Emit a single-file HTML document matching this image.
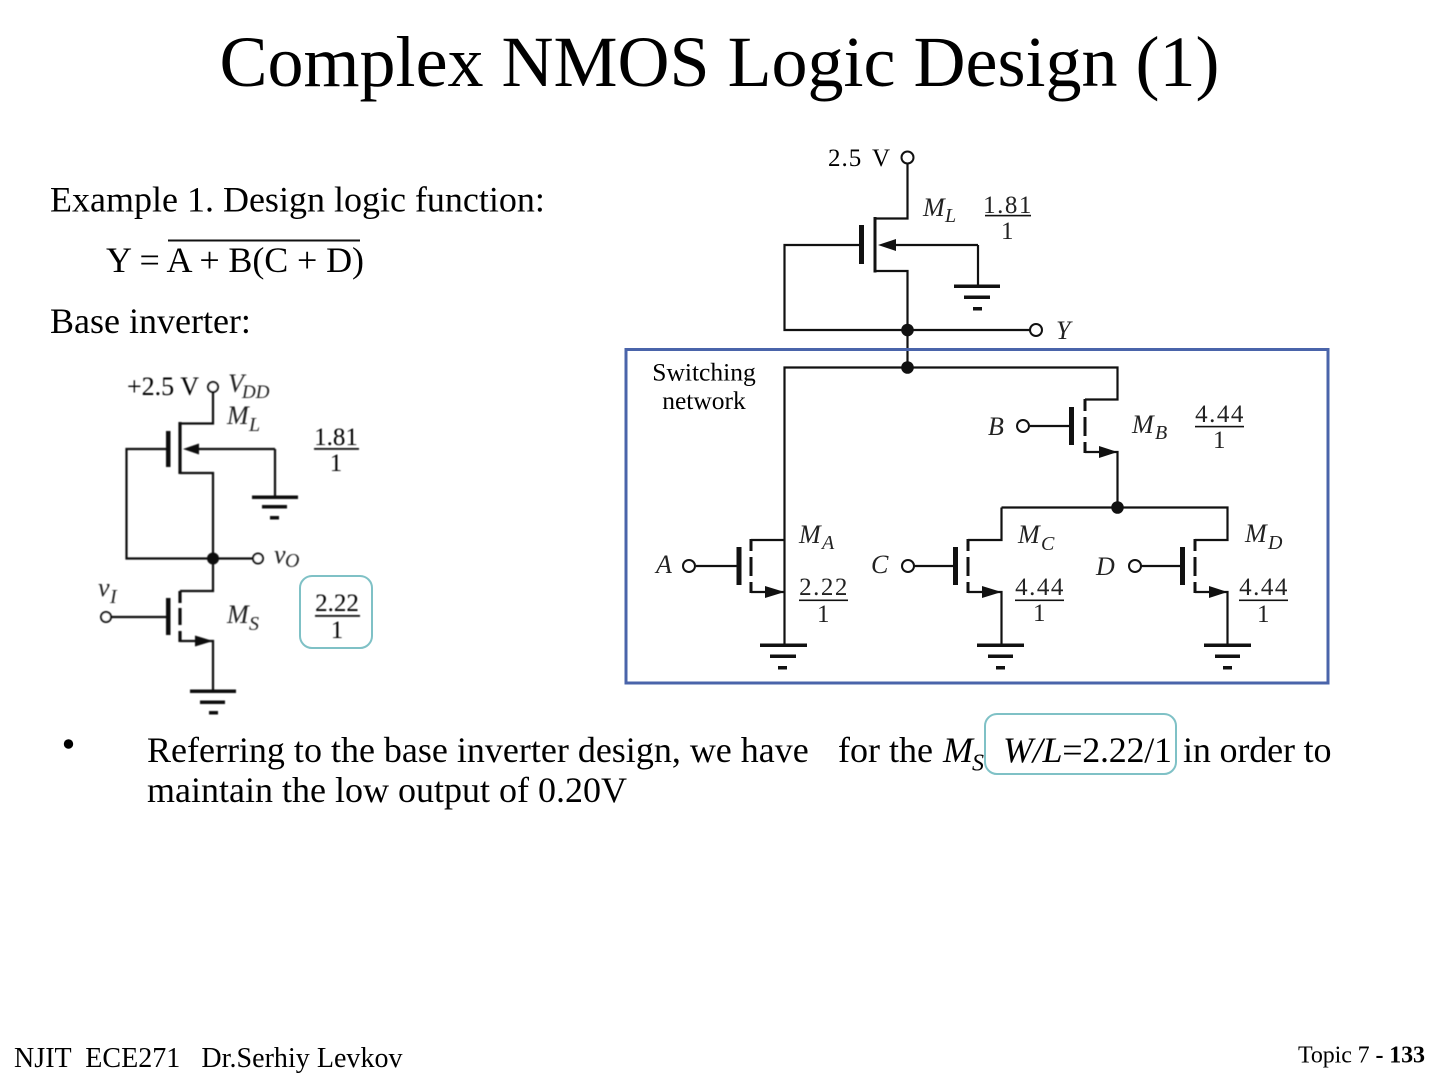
<!DOCTYPE html>
<html><head><meta charset="utf-8">
<style>
html,body{margin:0;padding:0;background:#fff}
svg{display:block}
text{font-family:"Liberation Serif",serif;fill:#000;white-space:pre}
.w{fill:none;stroke:#111;stroke-width:2.2}
.p{fill:#111}
.c{fill:#fff;stroke:#111;stroke-width:2}
.i{font-style:italic}
.n{font-size:25px;letter-spacing:1.5px;text-anchor:middle;fill:#222}
.l{font-size:26px;font-style:italic;fill:#222}
.s{font-size:20px;font-style:italic;fill:#222}
</style></head><body>
<svg width="1440" height="1080" viewBox="0 0 1440 1080" xmlns="http://www.w3.org/2000/svg">
<defs><filter id="b" x="-5%" y="-5%" width="110%" height="110%"><feGaussianBlur stdDeviation="0.5"/></filter></defs>

<text x="719.5" y="86" font-size="72" text-anchor="middle">Complex NMOS Logic Design (1)</text>
<text x="50" y="211.500" font-size="36">Example 1. Design logic function:</text>
<text x="106" y="272" font-size="36" textLength="258">Y = A + B(C + D)</text>
<rect x="168" y="239.500" width="192" height="2" fill="#111"/>
<text x="50" y="333" font-size="36">Base inverter:</text>

<!-- Left circuit -->
<g filter="url(#b)">
<path class="w" d="M213 392V423.5H180M180 473H213V558.5M168 449H126.500V558.500H252M213 558V591H180M110 617H168M180 641H213V691M275 449H195M275 449V497"/>
<path class="w" d="M180 422V474" style="stroke-width:3.200"/>
<path class="w" style="stroke-width:3.200" d="M180 591V603M180 608V625M180 631V642"/>
<rect class="p" x="166" y="431" width="4.500" height="36"/>
<rect class="p" x="166" y="598" width="4.500" height="37"/>
<path class="p" d="M183 449L199 443.500V454.500Z"/>
<path class="p" d="M213 641L195 635.500V646.500Z"/>
<circle class="c" cx="213" cy="387" r="5"/>
<circle class="c" cx="258" cy="558.500" r="5"/>
<circle class="c" cx="106" cy="617" r="5"/>
<circle class="p" cx="213" cy="558.500" r="6"/>
<rect class="p" x="252" y="495.500" width="46" height="3.500"/>
<rect class="p" x="262" y="505" width="25" height="3.500"/>
<rect class="p" x="270" y="516" width="9" height="3.500"/>
<rect class="p" x="190" y="689.500" width="46" height="3.500"/>
<rect class="p" x="200" y="700.500" width="25" height="3.500"/>
<rect class="p" x="209" y="711" width="9" height="3.500"/>
<text x="127" y="395" font-size="26" fill="#222">+2.5 V</text>
<text class="l" x="228" y="392">V</text><text class="s" x="242" y="398" style="font-size:19px">DD</text>
<text class="l" x="227" y="424">M</text><text class="s" x="249" y="431">L</text>
<text x="336" y="445" font-size="25" text-anchor="middle">1.81</text>
<rect class="p" x="314" y="448" width="45" height="1.800"/>
<text x="336" y="471" font-size="25" text-anchor="middle">1</text>
<text class="l" x="274" y="563">v</text><text class="s" x="285" y="567">O</text>
<text class="l" x="98" y="596">v</text><text class="s" x="110" y="603">I</text>
<text class="l" x="227" y="623">M</text><text class="s" x="249" y="630">S</text>
<text x="337" y="611" font-size="25" text-anchor="middle">2.22</text>
<rect class="p" x="315" y="615" width="45" height="1.800"/>
<text x="337" y="638" font-size="25" text-anchor="middle">1</text>
</g>
<rect x="300" y="576" width="72" height="72" rx="12" fill="none" stroke="#7fc1c6" stroke-width="2"/>

<!-- Right circuit -->
<path class="w" d="M907.500 164V218.500H875M875 271H907.500V367.500M861 245H784.500V330H1030M978 245H890M978 245V286M784.500 645V367.500H1117.500V399.500H1085M1030 426H1071M1085 452H1117.500V507.500M1001.500 507.500H1227.500V540H1195M1001.500 507.500V540H968M751 540H784.500M696 566H739M914 566H955M1141 566H1182M751 592H784.500M968 592H1001.500V645M1195 592H1227.500V645"/>
<path class="w" style="stroke-width:3" d="M875 217V272.500M1085 399V411M1085 417V436M1085 442V453M751 539V551M751 557V576M751 582V593M968 539V551M968 557V576M968 582V593M1195 539V551M1195 557V576M1195 582V593"/>
<rect class="p" x="859" y="225" width="5" height="39"/>
<rect class="p" x="1069" y="407" width="5" height="38"/>
<rect class="p" x="736.500" y="547" width="5" height="38"/>
<rect class="p" x="953" y="547" width="5" height="38"/>
<rect class="p" x="1180" y="547" width="5" height="38"/>
<path class="p" d="M878 245L896 239V251Z"/>
<path class="p" d="M1117.500 452L1099 446V458Z"/>
<path class="p" d="M784.500 592L765 586V598Z"/>
<path class="p" d="M1001.500 592L982 586V598Z"/>
<path class="p" d="M1227.500 592L1209 586V598Z"/>
<circle class="c" cx="907.500" cy="157.500" r="6"/>
<circle class="c" cx="1036" cy="330" r="6"/>
<circle class="c" cx="1023" cy="426" r="6"/>
<circle class="c" cx="689" cy="566" r="6"/>
<circle class="c" cx="908" cy="566" r="6"/>
<circle class="c" cx="1135" cy="566" r="6"/>
<circle class="p" cx="907.500" cy="330" r="6.300"/>
<circle class="p" cx="907.500" cy="367.500" r="6.300"/>
<circle class="p" cx="1117.500" cy="507.500" r="6.300"/>
<g class="p">
<rect x="954" y="284.500" width="46" height="3.500"/><rect x="964" y="295.500" width="26" height="3.500"/><rect x="973" y="307" width="9" height="3.500"/>
<rect x="760" y="643.500" width="47" height="3.500"/><rect x="770" y="654.500" width="26" height="3.500"/><rect x="778" y="666" width="9" height="3.500"/>
<rect x="977" y="643.500" width="47" height="3.500"/><rect x="988" y="654.500" width="25" height="3.500"/><rect x="996" y="666" width="9" height="3.500"/>
<rect x="1204" y="643.500" width="47" height="3.500"/><rect x="1215" y="654.500" width="25" height="3.500"/><rect x="1223" y="666" width="9" height="3.500"/>
</g>
<rect x="626" y="349.500" width="702" height="333.500" fill="none" stroke="#4a64aa" stroke-width="3"/>

<text x="828" y="166" font-size="25" fill="#222" letter-spacing="1" word-spacing="3">2.5 V</text>
<text class="l" x="923" y="216">M</text><text class="s" x="945" y="222">L</text>
<text class="n" x="1008" y="213">1.81</text><rect class="p" x="985" y="214.800" width="46" height="1.600"/><text class="n" x="1008" y="239">1</text>
<text class="l" x="1056" y="339">Y</text>
<text x="704" y="380.500" font-size="25.500" text-anchor="middle" fill="#222">Switching</text>
<text x="704" y="409" font-size="25.500" text-anchor="middle" fill="#222">network</text>
<text class="l" x="988" y="435">B</text>
<text class="l" x="1132" y="433">M</text><text class="s" x="1155" y="439">B</text>
<text class="n" x="1220" y="422">4.44</text><rect class="p" x="1195" y="425.800" width="49" height="1.600"/><text class="n" x="1220" y="448">1</text>
<text class="l" x="656" y="573">A</text>
<text class="l" x="799" y="543">M</text><text class="s" x="822" y="549">A</text>
<text class="n" x="824" y="595">2.22</text><rect class="p" x="799" y="599.500" width="49" height="1.600"/><text class="n" x="824" y="622">1</text>
<text class="l" x="871" y="573">C</text>
<text class="l" x="1018" y="543">M</text><text class="s" x="1041" y="550">C</text>
<text class="n" x="1040" y="595">4.44</text><rect class="p" x="1015" y="599.500" width="49" height="1.600"/><text class="n" x="1040" y="621">1</text>
<text class="l" x="1096" y="575">D</text>
<text class="l" x="1245" y="542">M</text><text class="s" x="1268" y="549">D</text>
<text class="n" x="1264" y="595">4.44</text><rect class="p" x="1239" y="599.500" width="49" height="1.600"/><text class="n" x="1264" y="622">1</text>

<!-- Bullet text -->
<circle cx="68.500" cy="744" r="4.700" fill="#000"/>
<text x="147" y="762" font-size="36">Referring to the base inverter design, we have</text>
<text x="838" y="762" font-size="36">for the</text>
<text x="943" y="762" font-size="36" class="i">M</text>
<text x="972" y="770.500" font-size="24" class="i">S</text>
<text x="1003" y="762" font-size="36" textLength="169"><tspan class="i">W/L</tspan>=2.22/1</text>
<text x="1183" y="762" font-size="36" textLength="148.500">in order to</text>
<text x="147" y="802" font-size="36">maintain the low output of 0.20V</text>
<rect x="985" y="714" width="191" height="60" rx="12" fill="none" stroke="#7fc1c6" stroke-width="2"/>

<!-- Footer -->
<text x="14" y="1067" font-size="28" xml:space="preserve" textLength="388.500">NJIT  ECE271   Dr.Serhiy Levkov</text>
<text x="1298" y="1062.500" font-size="24" textLength="127">Topic 7 <tspan font-weight="bold">- 133</tspan></text>
</svg>
</body></html>
